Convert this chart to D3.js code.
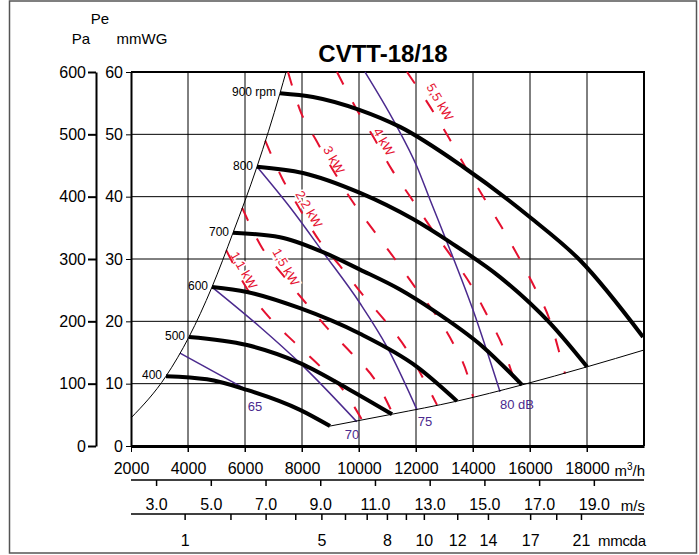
<!DOCTYPE html>
<html>
<head>
<meta charset="utf-8">
<script src="https://cdn.jsdelivr.net/npm/d3@7"></script>
<style>
  body { margin: 0; background: #fff; }
  svg text { font-family: "Liberation Sans", Arial, sans-serif; }
</style>
</head>
<body>
<svg id="chart"></svg>
<script>
// ---- data (flow m3/h, pressure mmWG) ----
let flow_ticks = [2000, 4000, 6000, 8000, 10000, 12000, 14000, 16000, 18000];
let mmwg_ticks = [0, 10, 20, 30, 40, 50, 60];
let pa_ticks = [0, 100, 200, 300, 400, 500, 600];
let ms_ticks = [3, 5, 7, 9, 11, 13, 15, 17, 19];
let mmcda_ticks = [1, 2, 3, 4, 5, 6, 7, 8, 9, 10, 12, 14, 17, 19, 21];
let mmcda_labels = [1, 5, 8, 10, 12, 14, 17, 21];

let rpm_labels = ['900 rpm', '800', '700', '600', '500', '400'];
let rpm_curves = [
  [[7228, 56.6], [8386, 56.0], [10036, 53.9], [11439, 51.2], [13650, 44.8], [16001, 36.7], [17755, 29.8], [19966, 17.5]],
  [[6421, 44.8], [8035, 43.8], [10036, 40.6], [11895, 36.4], [13194, 32.7], [14948, 27.1], [16703, 19.7], [18001, 12.7]],
  [[5579, 34.2], [7228, 33.5], [8737, 31.1], [10036, 28.3], [11439, 25.1], [12597, 21.8], [14352, 15.9], [15720, 9.8]],
  [[4842, 25.5], [6070, 24.7], [7930, 22.1], [10036, 18.0], [12036, 12.7], [13439, 7.2]],
  [[4035, 17.5], [6070, 16.2], [7930, 13.3], [9685, 9.0], [11159, 5.1]],
  [[3228, 11.2], [4667, 10.7], [6070, 9.0], [7930, 5.8], [8983, 3.2]]
];

// left boundary (stall) and lower boundary
let stall_line = [[2000, 4.5], [3228, 11.2], [4035, 17.5], [4842, 25.5], [5579, 34.2], [6421, 44.8], [7228, 56.6], [7440, 60]];
let end_line = [[8983, 3.2], [11159, 5.1], [13439, 7.2], [15720, 9.8], [18001, 12.7], [20000, 15.4]];

// sound level lines
let db_labels = ['65', '70', '75', '80 dB'];
let db_label_at = [[6351, 6.3], [9754, 1.9], [12316, 3.9], [15544, 6.6]];
let db_lines = [
  [[3720, 14.9], [6070, 9.0]],
  [[4842, 25.5], [6527, 19.1], [7930, 13.3], [9919, 3.9]],
  [[6421, 44.8], [7579, 38.3], [8737, 31.1], [10036, 22.9], [10983, 15.9], [12036, 5.8]],
  [[10211, 60], [11264, 51.8], [12036, 44.8], [12492, 39.5], [13088, 32.7], [14001, 21.8], [14948, 8.7]]
];

// motor power lines
let kw_labels = ['1,1 kW', '1,5 kW', '2,2 kW', '3 kW', '4 kW', '5,5 kW'];
let kw_label_at = [[5965, 28.2], [7439, 28.7], [8246, 38.0], [9123, 45.9], [10877, 48.8], [12842, 55.2]];
let kw_lines = [
  [[5342, 31.4], [6105, 25.0], [6877, 20.5], [7719, 16.7], [8632, 12.8], [9474, 8.8], [10105, 4.2]],
  [[5900, 38.2], [6596, 31.8], [7333, 27.4], [8105, 23.1], [8912, 18.8], [9754, 14.8], [10632, 10.1], [11193, 5.1]],
  [[6710, 49.0], [7298, 43.0], [7860, 38.5], [8597, 33.0], [9333, 28.9], [10105, 24.4], [10912, 20.1], [11684, 15.4], [12281, 10.6], [12737, 6.6]],
  [[7509, 60.0], [7930, 53.9], [8526, 48.8], [9123, 44.0], [9790, 39.1], [10491, 34.7], [11228, 30.2], [11965, 25.5], [12702, 21.0], [13333, 16.2], [13825, 11.1], [14000, 7.9]],
  [[9228, 60.0], [9895, 54.2], [10526, 49.4], [11158, 44.3], [11825, 39.8], [12526, 35.0], [13228, 30.5], [13930, 25.8], [14491, 21.0], [15053, 15.9], [15474, 10.6], [15614, 9.6]],
  [[11684, 60.0], [12526, 54.2], [13158, 49.4], [13754, 44.6], [14386, 39.8], [15018, 35.0], [15614, 30.2], [16211, 25.0], [16702, 20.1], [17053, 14.6], [17228, 11.6]]
];

// ---- layout ----
let svg_width = 699;
let svg_height = 555;
let red = '#e5102f';
let purple = '#4b2a8e';
let flow_per_ms = 960;      // m3/h per m/s of outlet velocity
let pd_per_v2 = 1.2 / (2 * 9.81);   // mmcda per (m/s)^2

let svg = d3.select('#chart')
  .attr('width', svg_width)
  .attr('height', svg_height);

let x = d3.scaleLinear().domain([2000, 20000]).range([131, 644]);
let y = d3.scaleLinear().domain([0, 60]).range([446, 72]);
let yPa = d3.scaleLinear().domain([0, 600]).range([446, 72]);
let xMs = d3.scaleLinear().domain([0, 20]).range([x(0), x(20 * flow_per_ms)]);
let vmax = Math.sqrt(25 / pd_per_v2);
let xPd = d3.scaleSqrt().domain([0, 25]).range([x(0), x(vmax * flow_per_ms)]);

// outer frame
svg.append('rect')
  .attr('x', 9.5).attr('y', 1)
  .attr('width', 687).attr('height', 552)
  .attr('fill', 'none').attr('stroke', '#555').attr('stroke-width', 1.5);

// grid
svg.append('g').selectAll('line')
  .data(flow_ticks.slice(1))
  .enter().append('line')
  .attr('x1', d => x(d)).attr('x2', d => x(d))
  .attr('y1', y(60)).attr('y2', y(0) + 6)
  .attr('stroke', '#000').attr('stroke-width', 1);
svg.append('g').selectAll('line')
  .data(mmwg_ticks.slice(1, -1))
  .enter().append('line')
  .attr('x1', x(2000)).attr('x2', x(20000))
  .attr('y1', d => y(d)).attr('y2', d => y(d))
  .attr('stroke', '#000').attr('stroke-width', 1);

// plot frame: top and right
svg.append('path')
  .attr('d', `M${x(2000)},${y(60)}H${x(20000)}V${y(0)}`)
  .attr('fill', 'none').attr('stroke', '#000').attr('stroke-width', 2);

// kW labels (white halo knocks out the grid)
svg.append('g').selectAll('text')
  .data(kw_labels)
  .enter().append('text')
  .attr('transform', (d, i) => `translate(${x(kw_label_at[i][0])},${y(kw_label_at[i][1])}) rotate(60)`)
  .attr('text-anchor', 'middle').attr('dy', '0.35em')
  .attr('font-size', 13).attr('fill', red)
  .attr('stroke', '#fff').attr('stroke-width', 3).attr('paint-order', 'stroke')
  .text(d => d);

let line = d3.line().x(d => x(d[0])).y(d => y(d[1])).curve(d3.curveMonotoneX);

// kW lines
svg.append('g').selectAll('path')
  .data(kw_lines)
  .enter().append('path')
  .attr('d', line)
  .attr('fill', 'none').attr('stroke', red)
  .attr('stroke-width', 2).attr('stroke-dasharray', '14,20');

// sound lines
svg.append('g').selectAll('path')
  .data(db_lines)
  .enter().append('path')
  .attr('d', line)
  .attr('fill', 'none').attr('stroke', purple).attr('stroke-width', 1.5);

svg.append('g').selectAll('text')
  .data(db_labels)
  .enter().append('text')
  .attr('x', (d, i) => x(db_label_at[i][0]))
  .attr('y', (d, i) => y(db_label_at[i][1]))
  .attr('dy', '0.35em').attr('text-anchor', 'middle')
  .attr('font-size', 13).attr('fill', purple)
  .text(d => d);

// boundaries
svg.append('g').selectAll('path')
  .data([stall_line, end_line])
  .enter().append('path')
  .attr('d', line)
  .attr('fill', 'none').attr('stroke', '#000').attr('stroke-width', 1);

// fan curves
svg.append('g').selectAll('path')
  .data(rpm_curves)
  .enter().append('path')
  .attr('d', line)
  .attr('fill', 'none').attr('stroke', '#000').attr('stroke-width', 4);

svg.append('g').selectAll('text')
  .data(rpm_labels)
  .enter().append('text')
  .attr('x', (d, i) => x(rpm_curves[i][0][0]) - 4)
  .attr('y', (d, i) => y(rpm_curves[i][0][1]) - 1)
  .attr('dy', '0.35em').attr('text-anchor', 'end')
  .attr('font-size', 12)
  .text(d => d);

// ---- axes ----
// mmWG axis on the plot edge
let axis_mm = svg.append('g')
  .attr('transform', `translate(${x(2000)},0)`)
  .call(d3.axisLeft(y).tickValues(mmwg_ticks).tickSize(5).tickSizeOuter(0).tickPadding(3));
// Pa axis further left
let axis_pa = svg.append('g')
  .attr('transform', 'translate(96,0)')
  .call(d3.axisLeft(yPa).tickValues(pa_ticks).tickSize(8).tickSizeOuter(0).tickPadding(2));
// flow axis
let axis_q = svg.append('g')
  .attr('transform', `translate(0,${y(0)})`)
  .call(d3.axisBottom(x).tickValues(flow_ticks).tickSize(6).tickSizeOuter(0).tickFormat(d3.format('d')).tickPadding(11));
// velocity axis
let axis_ms = svg.append('g')
  .attr('transform', 'translate(0,480)')
  .call(d3.axisBottom(xMs).tickValues(ms_ticks).tickSize(6).tickSizeOuter(0).tickFormat(d3.format('.1f')).tickPadding(13));
// dynamic pressure axis
let axis_pd = svg.append('g')
  .attr('transform', 'translate(0,514)')
  .call(d3.axisBottom(xPd).tickValues(mmcda_ticks).tickSize(6).tickSizeOuter(0)
    .tickFormat(d => mmcda_labels.includes(d) ? d : '').tickPadding(15));

// fix up domain extents
axis_ms.select('.domain').attr('d', `M${x(2000)},0H${x(20000)}`);
axis_pd.select('.domain').attr('d', `M${x(2000)},0H${x(20000)}`);

[axis_mm, axis_pa, axis_q, axis_ms, axis_pd].forEach(a => {
  a.selectAll('text').attr('font-size', 16).attr('fill', '#000');
  a.selectAll('line').attr('stroke', '#000');
});
axis_mm.select('.domain').attr('stroke-width', 2);
axis_pa.select('.domain').attr('stroke-width', 2);
axis_pa.selectAll('line').attr('stroke-width', 2);
axis_q.select('.domain').attr('stroke-width', 3);
axis_ms.select('.domain').attr('stroke-width', 1.5);
axis_pd.select('.domain').attr('stroke-width', 1.5);
axis_ms.selectAll('line').attr('stroke-width', 1.5);
axis_pd.selectAll('line').attr('stroke-width', 1.5);

// units
let units = svg.append('g').attr('font-size', 15);
units.append('text').attr('x', 645).attr('y', 476).attr('text-anchor', 'end').html('m<tspan dy="-6" font-size="10">3</tspan><tspan dy="6">/h</tspan>');
units.append('text').attr('x', 645).attr('y', 511).attr('text-anchor', 'end').text('m/s');
units.append('text').attr('x', 646).attr('y', 546).attr('text-anchor', 'end').attr('textLength', 48).text('mmcda');

// axis headers
let heads = svg.append('g').attr('font-size', 15);
heads.append('text').attr('x', 100).attr('y', 24).attr('text-anchor', 'middle').text('Pe');
heads.append('text').attr('x', 81).attr('y', 44).attr('text-anchor', 'middle').text('Pa');
heads.append('text').attr('x', 142).attr('y', 44).attr('text-anchor', 'middle').text('mmWG');

// title
svg.append('text')
  .attr('x', 383).attr('y', 62)
  .attr('text-anchor', 'middle')
  .attr('font-size', 24).attr('font-weight', 'bold')
  .text('CVTT-18/18');
</script>
</body>
</html>
